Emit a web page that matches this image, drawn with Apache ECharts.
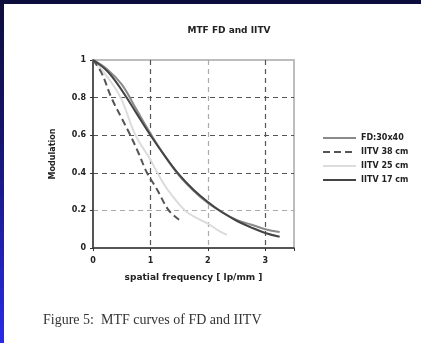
<!DOCTYPE html>
<html>
<head>
<meta charset="utf-8">
<script src="https://cdn.jsdelivr.net/npm/echarts@6/dist/echarts.min.js"></script>
<style>
html,body{margin:0;padding:0;width:421px;height:343px;overflow:hidden;}
body{background:linear-gradient(to bottom,#0d0d3c 0%,#15156e 40%,#2a2ae8 100%);position:relative;}
#paper{position:absolute;left:4px;top:4px;width:417px;height:339px;background:#fff;}
#chart{position:absolute;left:0;top:0;width:421px;height:343px;}
</style>
</head>
<body>
<div id="paper"></div>
<div id="chart"></div>
<script>
// ---- data ----
const seriesNames = ['FD:30x40', 'IITV 38 cm', 'IITV 25 cm', 'IITV 17 cm'];
const fdX   = [0, 0.25, 0.5, 0.75, 1, 1.25, 1.5, 1.75, 2, 2.25, 2.5, 2.75, 3, 3.25];
const fdY   = [1, 0.95, 0.87, 0.74, 0.61, 0.49, 0.385, 0.305, 0.24, 0.19, 0.15, 0.125, 0.1, 0.085];
const iitv38X = [0, 0.15, 0.32, 0.5, 0.65, 0.8, 0.94, 1.1, 1.32, 1.5];
const iitv38Y = [1, 0.93, 0.8, 0.69, 0.6, 0.5, 0.4, 0.32, 0.2, 0.15];
const iitv25X = [0, 0.2, 0.48, 0.74, 1, 1.12, 1.3, 1.6, 1.8, 2, 2.2, 2.33];
const iitv25Y = [1, 0.93, 0.8, 0.6, 0.47, 0.4, 0.31, 0.2, 0.16, 0.13, 0.09, 0.07];
const iitv17X = [0, 0.25, 0.5, 0.75, 1, 1.25, 1.5, 1.75, 2, 2.25, 2.5, 2.75, 3, 3.25];
const iitv17Y = [1, 0.94, 0.84, 0.72, 0.6, 0.49, 0.39, 0.31, 0.245, 0.19, 0.145, 0.11, 0.08, 0.06];
const titleText = 'MTF FD and IITV';
const xAxisName = 'spatial frequency [ lp/mm ]';
const yAxisName = 'Modulation';
const captionText = 'Figure 5:  MTF curves of FD and IITV';

const pair = (xs, ys) => xs.map((x, i) => [x, ys[i]]);
const F = 'DejaVu Sans';

const chart = echarts.init(document.getElementById('chart'), null, {renderer: 'canvas'});
chart.setOption({
  backgroundColor: 'transparent',
  animation: false,
  graphic: [
    {type: 'text', x: 229, y: 31, style: {text: titleText, font: 'bold 9px "DejaVu Sans"', fill: '#222', align: 'center', verticalAlign: 'middle'}},
    {type: 'text', x: 43, y: 320, style: {text: captionText, font: '14px "Liberation Serif"', fill: '#333', align: 'left', verticalAlign: 'middle'}}
  ],
  legend: {
    orient: 'vertical', left: 317, top: 129,
    itemWidth: 33, itemHeight: 8, itemGap: 6,
    itemStyle: {opacity: 0},
    textStyle: {fontFamily: F, fontWeight: 'bold', fontSize: 8, color: '#222'},
    data: seriesNames
  },
  grid: {left: 93, top: 60, right: 127, bottom: 95, show: true, borderColor: '#bdbdbd', borderWidth: 2, backgroundColor: 'transparent'},
  xAxis: {
    type: 'value', min: 0, max: 3.5, interval: 1,
    name: xAxisName, nameLocation: 'middle', nameGap: 25,
    nameTextStyle: {fontFamily: F, fontWeight: 'bold', fontSize: 9, color: '#222'},
    axisLine: {show: true, lineStyle: {color: '#333', width: 1.5}},
    axisTick: {show: true, length: 3, lineStyle: {color: '#333'}},
    axisLabel: {margin: 9, fontFamily: F, fontWeight: 'bold', fontSize: 8, color: '#222',
      formatter: v => Number.isInteger(v) ? String(v) : ''},
    splitLine: {show: true, lineStyle: {type: [5, 4], width: 1.2, color: ['transparent', '#555', '#aaa', '#555', 'transparent']}}
  },
  yAxis: {
    type: 'value', min: 0, max: 1, interval: 0.2,
    name: yAxisName, nameLocation: 'middle', nameGap: 36,
    nameTextStyle: {fontFamily: F, fontWeight: 'bold', fontSize: 8, color: '#222'},
    axisLine: {show: true, lineStyle: {color: '#333', width: 1.5}},
    axisTick: {show: true, length: 3, lineStyle: {color: '#333'}},
    axisLabel: {margin: 7, fontFamily: F, fontWeight: 'bold', fontSize: 8, color: '#222'},
    splitLine: {show: true, lineStyle: {type: [5, 4], width: 1.2, color: ['transparent', '#aaa', '#555', '#555', '#555', 'transparent']}}
  },
  series: [
    {name: seriesNames[0], type: 'line', smooth: 0.4, symbol: 'none', data: pair(fdX, fdY),
      lineStyle: {color: '#8a8a8a', width: 2}, itemStyle: {color: '#8a8a8a'}, z: 3},
    {name: seriesNames[1], type: 'line', smooth: 0.4, symbol: 'none', data: pair(iitv38X, iitv38Y),
      lineStyle: {color: '#555', width: 2, type: [7, 4]}, itemStyle: {color: '#555'}, z: 3},
    {name: seriesNames[2], type: 'line', smooth: 0.4, symbol: 'none', data: pair(iitv25X, iitv25Y),
      lineStyle: {color: '#dcdcdc', width: 2}, itemStyle: {color: '#dcdcdc'}, z: 2},
    {name: seriesNames[3], type: 'line', smooth: 0.4, symbol: 'none', data: pair(iitv17X, iitv17Y),
      lineStyle: {color: '#444', width: 2}, itemStyle: {color: '#444'}, z: 4}
  ]
});
</script>
</body>
</html>
